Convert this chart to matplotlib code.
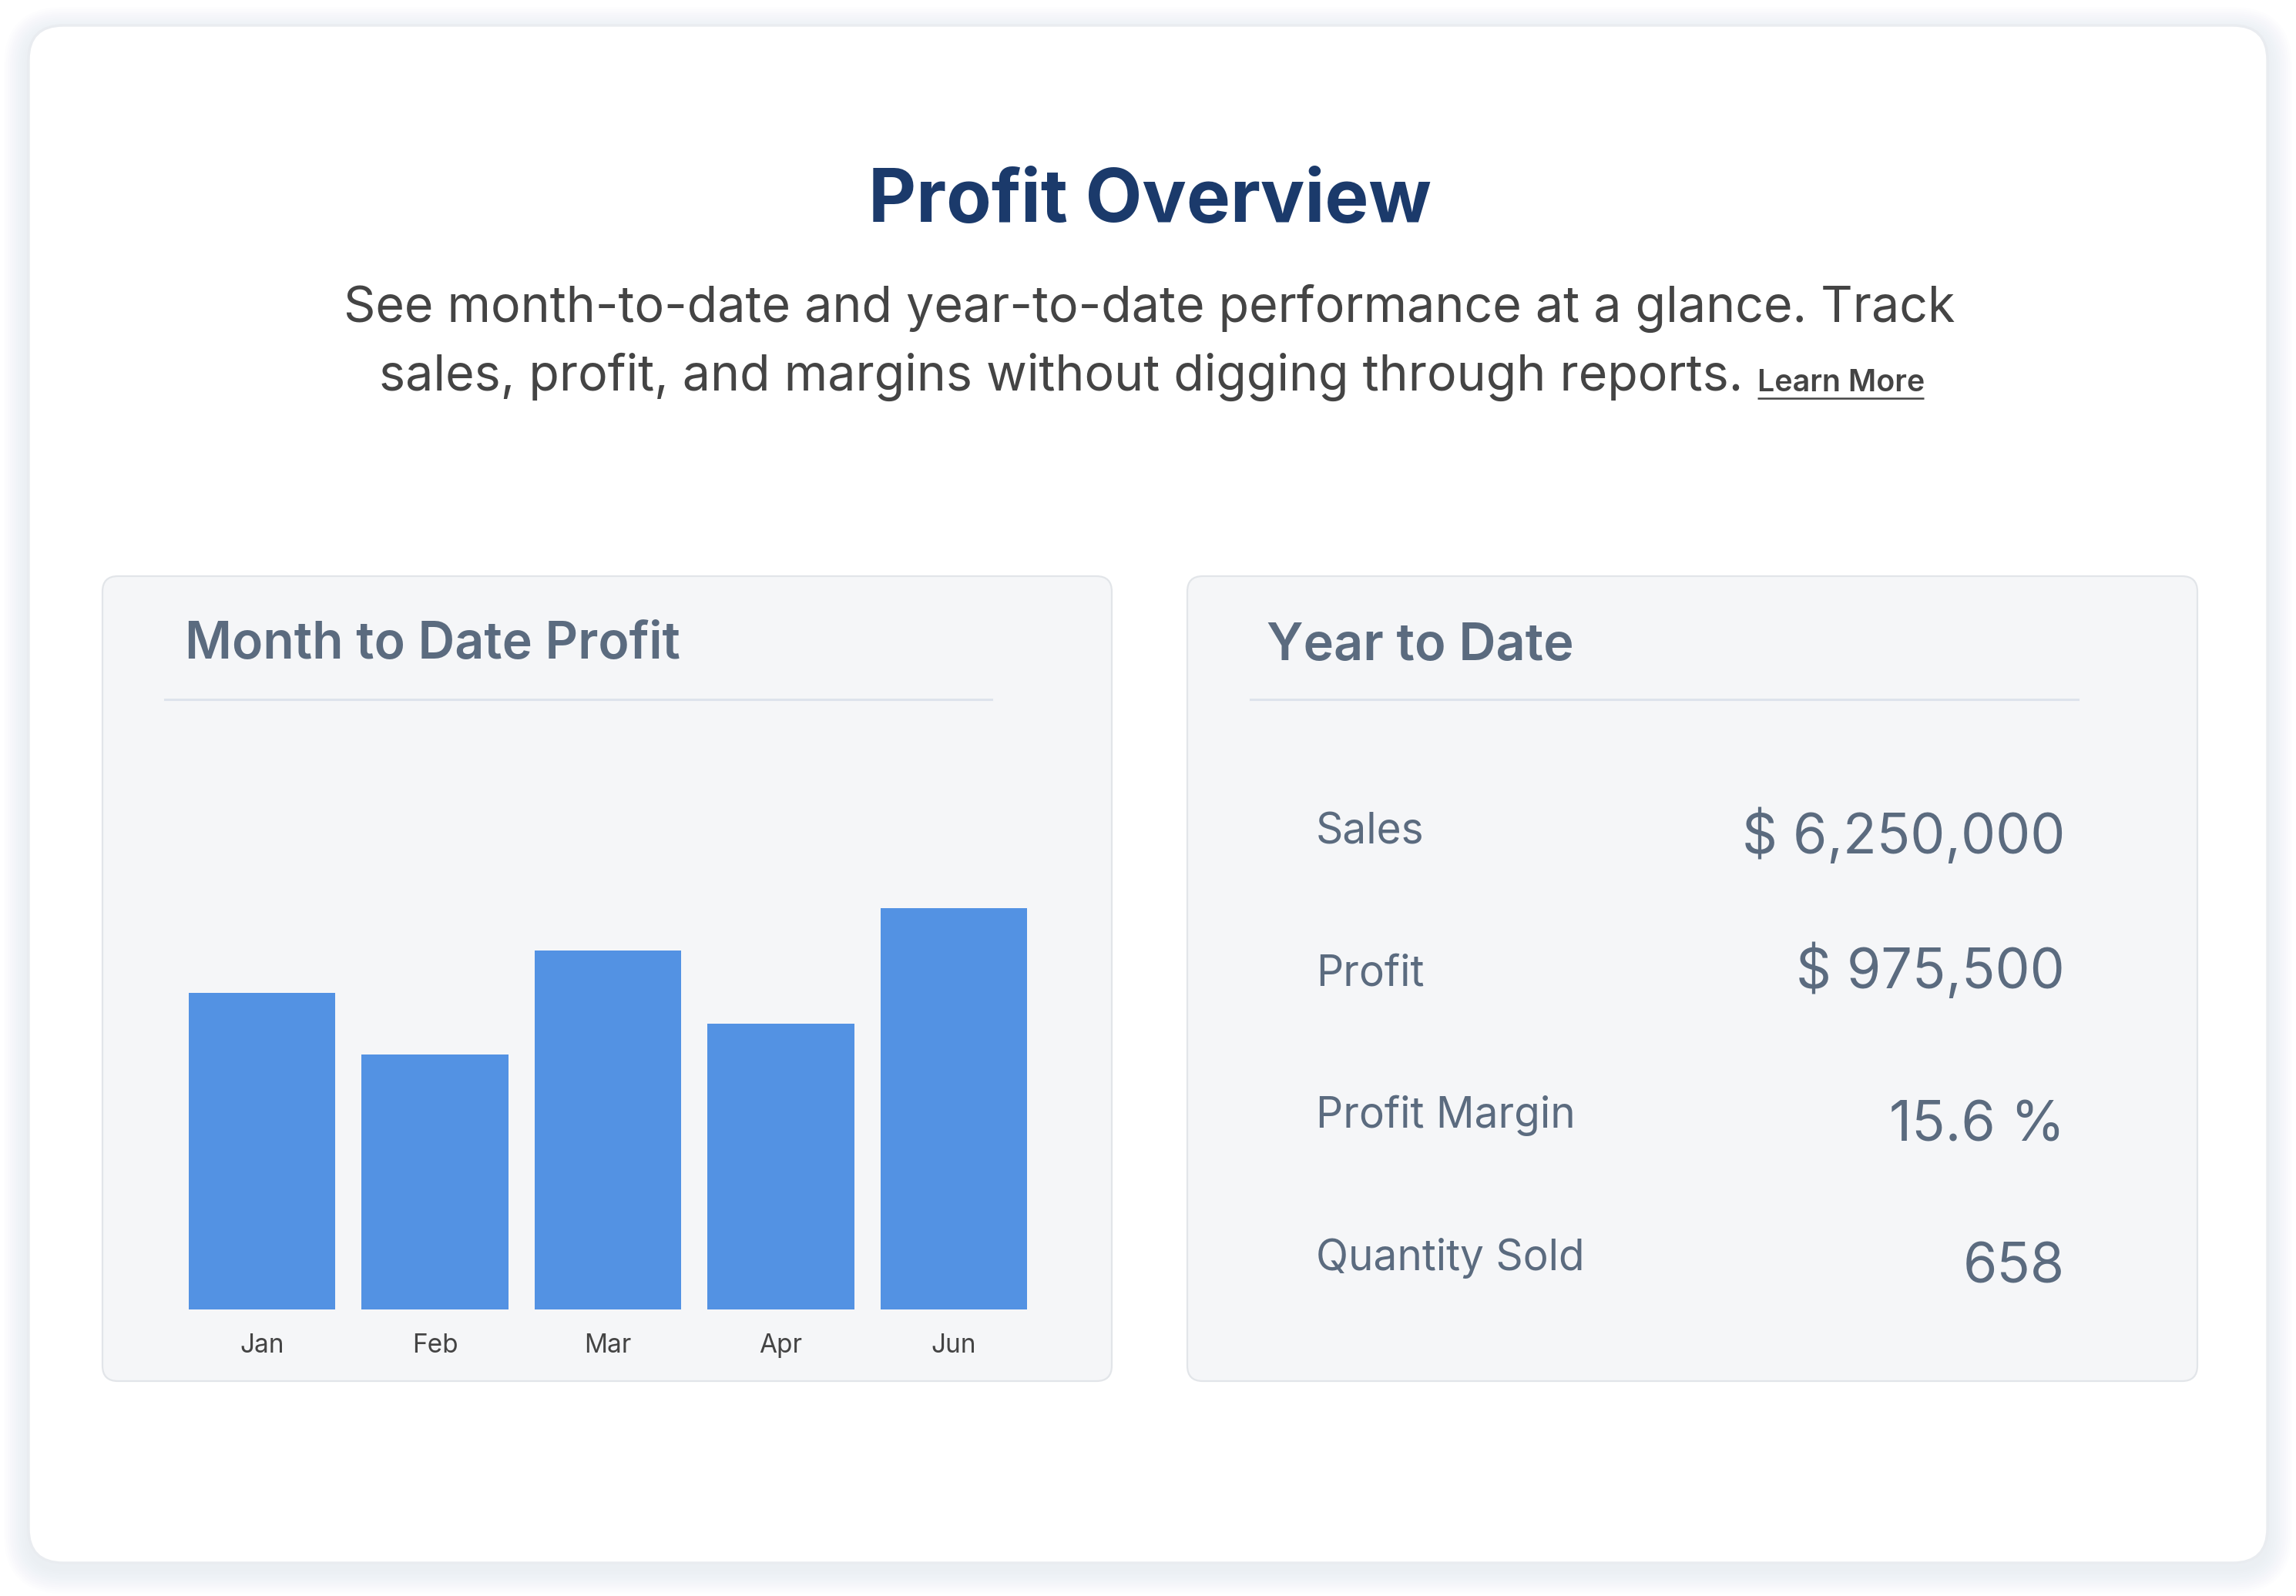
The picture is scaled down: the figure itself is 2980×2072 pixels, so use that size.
import matplotlib
matplotlib.use("Agg")
import matplotlib.pyplot as plt
from matplotlib.patches import FancyBboxPatch

# data
months = ["Jan", "Feb", "Mar", "Apr", "Jun"]
profit = [82000, 66000, 93000, 74000, 104000]

ytd_labels = ["Sales", "Profit", "Profit Margin", "Quantity Sold"]
ytd_values = ["$ 6,250,000", "$ 975,500", "15.6 %", "658"]

title = "Profit Overview"
subtitle_1 = "See month-to-date and year-to-date performance at a glance. Track"
subtitle_2 = "sales, profit, and margins without digging through reports."
link_text = "Learn More"

# canvas in pixels
W, H = 2980, 2072
DPI = 200
fig = plt.figure(figsize=(W / DPI, H / DPI), dpi=DPI, facecolor="white")

bg = fig.add_axes([0, 0, 1, 1], zorder=0)
bg.set_xlim(0, W)
bg.set_ylim(H, 0)
bg.axis("off")

FONT = ["Inter", "DejaVu Sans"]
SLATE = "#5b6b7f"


def card(x0, y0, x1, y1, r, face, edge, lw, shadow_steps, spread, dy, alpha):
    # soft shadow: stacked translucent boxes
    for i in range(shadow_steps, 0, -1):
        grow = spread * i / shadow_steps
        sh = FancyBboxPatch((x0 - grow, y0 - grow + dy), (x1 - x0) + 2 * grow, (y1 - y0) + 2 * grow,
                            boxstyle=f"round,pad=0,rounding_size={r + grow}",
                            facecolor="#9aa3ad", edgecolor="none", alpha=alpha, zorder=1)
        bg.add_patch(sh)
    box = FancyBboxPatch((x0, y0), x1 - x0, y1 - y0,
                         boxstyle=f"round,pad=0,rounding_size={r}",
                         facecolor=face, edgecolor=edge, linewidth=lw, zorder=2)
    bg.add_patch(box)


# outer card
card(37, 33, 2943, 2029, 45, "white", "#e9ecf0", 1.2, 12, 32, 8, 0.012)

# inner cards
card(133, 748, 1443, 1793, 20, "#f5f6f8", "#e2e5e9", 0.8, 8, 16, 10, 0.016)
card(1541, 748, 2852, 1793, 20, "#f5f6f8", "#e2e5e9", 0.8, 8, 16, 10, 0.016)

# heading
bg.text(1492, 288, title, ha="center", va="baseline", fontsize=34.5, fontweight="bold",
        color="#1b3a6b", family=FONT, zorder=5)
bg.text(1492, 418, subtitle_1, ha="center", va="baseline", fontsize=23.2,
        color="#444444", family=FONT, zorder=5)
bg.text(2262, 507, subtitle_2, ha="right", va="baseline", fontsize=23.2,
        color="#444444", family=FONT, zorder=5)
bg.text(2281, 508, link_text, ha="left", va="baseline", fontsize=14.2, fontweight="semibold",
        color="#444444", family=FONT, zorder=5)
bg.plot([2281, 2497], [517, 517], color="#444444", lw=0.9, solid_capstyle="butt", zorder=5)

# card headers
bg.text(240, 855, "Month to Date Profit", ha="left", va="baseline", fontsize=23.8,
        fontweight="semibold", color=SLATE, family=FONT, zorder=5)
bg.plot([214, 1287], [908, 908], color="#dde3ec", lw=1.1, zorder=5)

bg.text(1644, 857, "Year to Date", ha="left", va="baseline", fontsize=24,
        fontweight="semibold", color=SLATE, family=FONT, zorder=5)
bg.plot([1623, 2697], [908, 908], color="#dde3ec", lw=1.1, zorder=5)

# year to date rows
label_base = [1096, 1280, 1464, 1649]
value_base = [1108, 1283, 1481, 1665]
for lab, val, yl, yv in zip(ytd_labels, ytd_values, label_base, value_base):
    bg.text(1708, yl, lab, ha="left", va="baseline", fontsize=19.8, fontweight="normal",
            color=SLATE, family=FONT, zorder=5)
    bg.text(2680, yv, val, ha="right", va="baseline", fontsize=25.8,
            color=SLATE, family=FONT, zorder=5)

# bar chart
ymax = 120000
ax_left, ax_right = 227.75, 1350.25
ax_bottom = 1700
ax_height = 601
ax = fig.add_axes([ax_left / W, (H - ax_bottom) / H, (ax_right - ax_left) / W, ax_height / H], zorder=3)
ax.set_facecolor("none")
ax.bar(range(len(months)), profit, width=0.85, color="#5392e3")
ax.set_xlim(-0.5, len(months) - 0.5)
ax.set_ylim(0, ymax)
for s in ax.spines.values():
    s.set_visible(False)
ax.set_yticks([])
ax.set_xticks(range(len(months)))
ax.set_xticklabels(months, fontsize=12, color="#444444", family=FONT)
ax.tick_params(axis="x", length=0, pad=11)

fig.savefig("out.png", dpi=DPI, facecolor="white")
